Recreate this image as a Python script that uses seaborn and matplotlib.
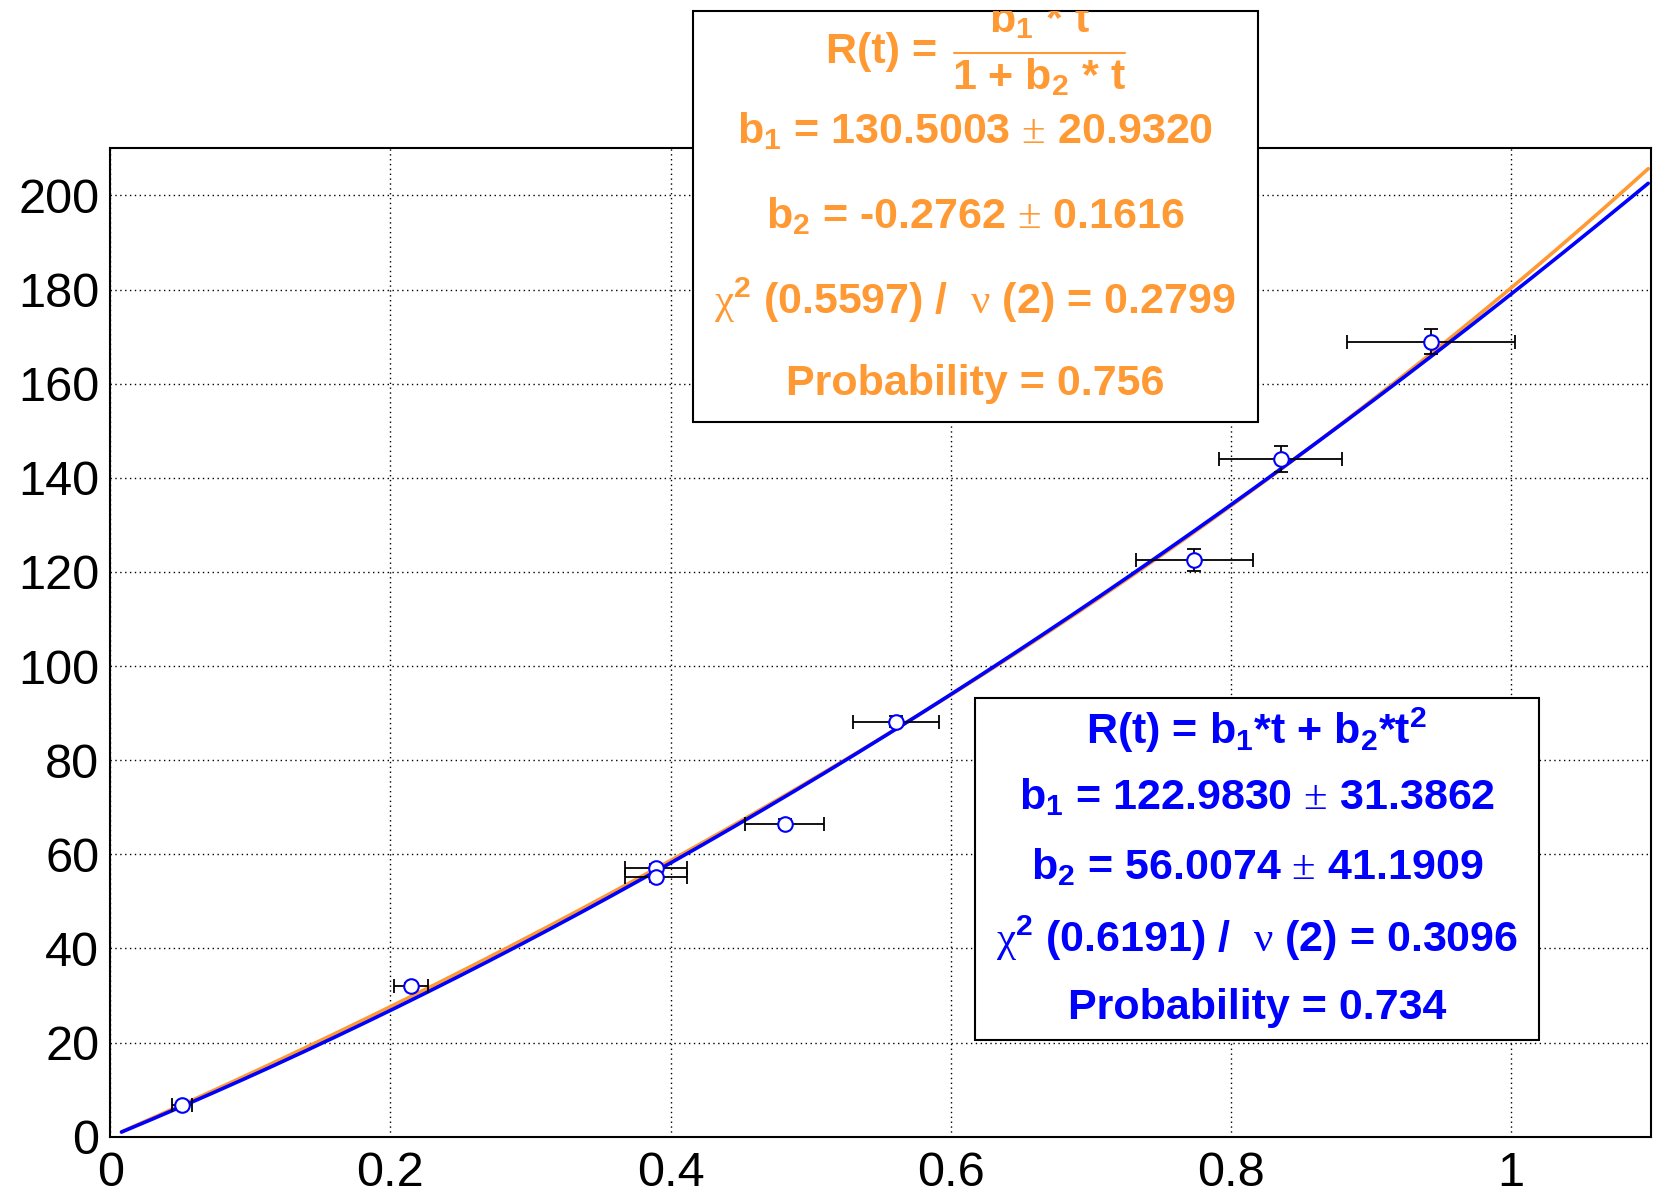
import numpy as np
import pandas as pd

import matplotlib
matplotlib.use('Agg')
import matplotlib.pyplot as plt
import seaborn as sns
from matplotlib.patches import Rectangle
from matplotlib.lines import Line2D
from matplotlib.ticker import MultipleLocator, FuncFormatter


# measured points
t_pts = [0.051, 0.2145, 0.3895, 0.3895, 0.4815, 0.561, 0.774, 0.8356, 0.943]
r_pts = [6.7, 32.0, 57.1, 55.1, 66.5, 88.2, 122.5, 144.0, 168.9]
t_err = [0.007, 0.012, 0.022, 0.022, 0.028, 0.031, 0.0417, 0.044, 0.060]
r_err = [0.3, 0.6, 0.9, 0.9, 1.0, 1.1, 2.4, 2.8, 2.7]

# fit results shown in the boxes
rat_b1, rat_b2 = 130.5003, -0.2762
quad_b1, quad_b2 = 122.9830, 56.0074
t_lo, t_hi = 0.008, 1.098

rat_lines = ['b$_1$ = 130.5003 $\\mathsf{\\pm}$ 20.9320',
             'b$_2$ = -0.2762 $\\mathsf{\\pm}$ 0.1616',
             '$\\mathsf{\\chi}^2$ (0.5597) /  $\\mathsf{\\nu}$ (2) = 0.2799',
             'Probability = 0.756']
quad_lines = ['R(t) = b$_1$*t + b$_2$*t$^2$',
              'b$_1$ = 122.9830 $\\mathsf{\\pm}$ 31.3862',
              'b$_2$ = 56.0074 $\\mathsf{\\pm}$ 41.1909',
              '$\\mathsf{\\chi}^2$ (0.6191) /  $\\mathsf{\\nu}$ (2) = 0.3096',
              'Probability = 0.734']

orange = '#ff9933'
blue = '#0000ff'

W, H = 1653, 1196


def fx(px):
    return px / W


def fy(py):
    return 1 - py / H


sns.set_style('white')
plt.rcParams['font.family'] = ['Liberation Sans', 'DejaVu Sans']
plt.rcParams['mathtext.fontset'] = 'custom'
plt.rcParams['mathtext.rm'] = 'Liberation Sans:bold'
plt.rcParams['mathtext.it'] = 'Liberation Sans:bold'
plt.rcParams['mathtext.bf'] = 'Liberation Sans:bold'
plt.rcParams['mathtext.sf'] = 'Liberation Serif'
plt.rcParams['mathtext.default'] = 'rm'

fig = plt.figure(figsize=(W / 100, H / 100), dpi=100)
ax = fig.add_axes([fx(110.3), fy(1136.7), fx(1651) - fx(110.3), fy(148.3) - fy(1136.7)])

tt = np.linspace(t_lo, t_hi, 400)
curves = pd.DataFrame({'t': tt,
                       'rational': rat_b1 * tt / (1 + rat_b2 * tt),
                       'quad': quad_b1 * tt + quad_b2 * tt ** 2})
sns.lineplot(data=curves, x='t', y='rational', color=orange, lw=2.6, ax=ax, zorder=2)
sns.lineplot(data=curves, x='t', y='quad', color=blue, lw=2.6, ax=ax, zorder=2)

ax.errorbar(t_pts, r_pts, xerr=t_err, yerr=r_err, fmt='none', ecolor='black',
            elinewidth=1.3, capsize=5, capthick=1.3, zorder=3)
sns.scatterplot(x=t_pts, y=r_pts, marker='o', s=110, color='white', edgecolor=blue,
                linewidth=1.5, zorder=4, ax=ax)

ax.set_xlim(0, 1.1)
ax.set_ylim(0, 210)
ax.set_xlabel('')
ax.set_ylabel('')
ax.xaxis.set_major_locator(MultipleLocator(0.2))
ax.xaxis.set_minor_locator(MultipleLocator(0.05))
ax.yaxis.set_major_locator(MultipleLocator(20))
ax.yaxis.set_minor_locator(MultipleLocator(5))
ax.xaxis.set_major_formatter(FuncFormatter(lambda v, p: '%g' % round(v, 3)))
ax.yaxis.set_major_formatter(FuncFormatter(lambda v, p: '%g' % v))
ax.tick_params(which='both', direction='in', width=1.3, color='black',
               top=False, right=False, labelsize=35, labelcolor='black')
ax.tick_params(axis='x', which='major', length=24, pad=10)
ax.tick_params(axis='x', which='minor', length=13)
ax.tick_params(axis='y', which='major', length=29, pad=8)
ax.tick_params(axis='y', which='minor', length=16)
ax.grid(True, which='major', color='black', linestyle=(0, (1, 2.5)), linewidth=1)
for sp in ax.spines.values():
    sp.set_color('black')
    sp.set_linewidth(1.5)

# orange box (rational fit)
box_o = Rectangle((fx(692.6), fy(421.7)), fx(1257.6) - fx(692.6), fy(10.5) - fy(421.7),
                  transform=fig.transFigure, facecolor='white', edgecolor='black',
                  lw=1.5, zorder=5)
fig.add_artist(box_o)
txt_kw = dict(ha='center', va='baseline', fontsize=31, fontweight='bold', zorder=6)
fig.text(fx(937), fy(63), 'R(t) =', color=orange, **{**txt_kw, 'ha': 'right'})
num = fig.text(fx(1039), fy(31.6), 'b$_1$ * t', color=orange, **txt_kw)
num.set_clip_path(box_o)
fig.add_artist(Line2D([fx(954), fx(1125)], [fy(52.7), fy(52.7)], color=orange,
                      lw=1.5, transform=fig.transFigure, zorder=6))
fig.text(fx(1039), fy(89.6), '1 + b$_2$ * t', color=orange, **txt_kw)
for s, yb in zip(rat_lines, [143, 228, 314, 395]):
    fig.text(fx(975), fy(yb), s, color=orange, **txt_kw)

# blue box (quadratic fit)
box_b = Rectangle((fx(975), fy(1040)), fx(1539) - fx(975), fy(698) - fy(1040),
                  transform=fig.transFigure, facecolor='white', edgecolor='black',
                  lw=1.5, zorder=5)
fig.add_artist(box_b)
for s, yb in zip(quad_lines, [744, 809.5, 879, 952, 1019]):
    fig.text(fx(1257), fy(yb), s, color=blue, **txt_kw)

fig.savefig('out.png', dpi=100)
